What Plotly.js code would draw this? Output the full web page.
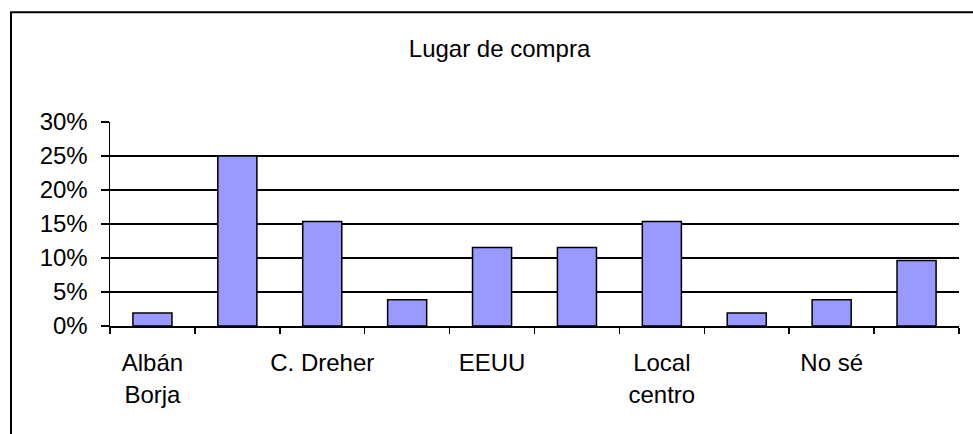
<!DOCTYPE html>
<html>
<head>
<meta charset="utf-8">
<script src="https://cdn.plot.ly/plotly-3.0.1.min.js"></script>
<style>
  html, body { margin: 0; padding: 0; background: #ffffff; }
  #chart { width: 973px; height: 434px; }
</style>
</head>
<body>
<div id="chart"></div>
<script>
// Categories (only every other label is printed in the reference; the rest are unreadable)
const categories = ["Albán<br>Borja", "", "C. Dreher", "", "EEUU", "", "Local<br>centro", "", "No sé", ""];
// Share of respondents per purchase place (fractions)
const values = [0.0192, 0.25, 0.1538, 0.0385, 0.1154, 0.1154, 0.1538, 0.0192, 0.0385, 0.0962];
const yTicks = [0, 0.05, 0.10, 0.15, 0.20, 0.25, 0.30];
const chartTitle = "Lugar de compra";

const xPos = categories.map((_, i) => i);
const labelIdx = xPos.filter(i => categories[i] !== "");

const FONT = "Liberation Sans, Arial, sans-serif";

const trace = {
  type: "bar",
  x: xPos,
  y: values,
  marker: { color: "#9999FF", line: { color: "#000000", width: 1.5 } },
  hoverinfo: "skip"
};

const layout = {
  width: 973,
  height: 434,
  margin: { l: 110, r: 14, t: 122, b: 108 },
  paper_bgcolor: "#ffffff",
  plot_bgcolor: "#ffffff",
  showlegend: false,
  bargap: 0.54,
  font: { family: FONT, size: 24, color: "#000000" },
  title: {
    text: chartTitle,
    font: { family: FONT, size: 24, color: "#000000" },
    xref: "container", x: 0.5134, xanchor: "center",
    yref: "container", y: 0.889, yanchor: "middle"
  },
  xaxis: {
    range: [-0.5, 9.5],
    tickmode: "array",
    tickvals: labelIdx,
    ticktext: labelIdx.map(i => categories[i]),
    ticks: "",
    ticklabelstandoff: 15,
    showgrid: false,
    zeroline: false,
    showline: true,
    linecolor: "#000000",
    linewidth: 1.5,
    tickfont: { family: FONT, size: 24, color: "#000000" },
    minor: {
      tickmode: "linear",
      tick0: -0.5,
      dtick: 1,
      ticks: "outside",
      ticklen: 6,
      tickwidth: 1.5,
      tickcolor: "#000000",
      showgrid: false
    },
    fixedrange: true
  },
  yaxis: {
    range: [0, 0.30],
    tickmode: "array",
    tickvals: yTicks,
    tickformat: ".0%",
    ticks: "outside",
    ticklen: 8,
    tickwidth: 1.5,
    tickcolor: "#000000",
    ticklabelstandoff: 8,
    showgrid: true,
    gridcolor: "#000000",
    gridwidth: 1.5,
    zeroline: false,
    showline: true,
    linecolor: "#000000",
    linewidth: 1.5,
    tickfont: { family: FONT, size: 24, color: "#000000" },
    fixedrange: true
  },
  shapes: [
    {
      type: "rect", xref: "paper", yref: "paper",
      x0: -0.1166, x1: 1.2, y0: -0.8, y1: 1.5377,
      line: { color: "#000000", width: 2 },
      fillcolor: "rgba(0,0,0,0)",
      layer: "below"
    }
  ]
};

Plotly.newPlot("chart", [trace], layout, { displayModeBar: false, staticPlot: true });
</script>
</body>
</html>
